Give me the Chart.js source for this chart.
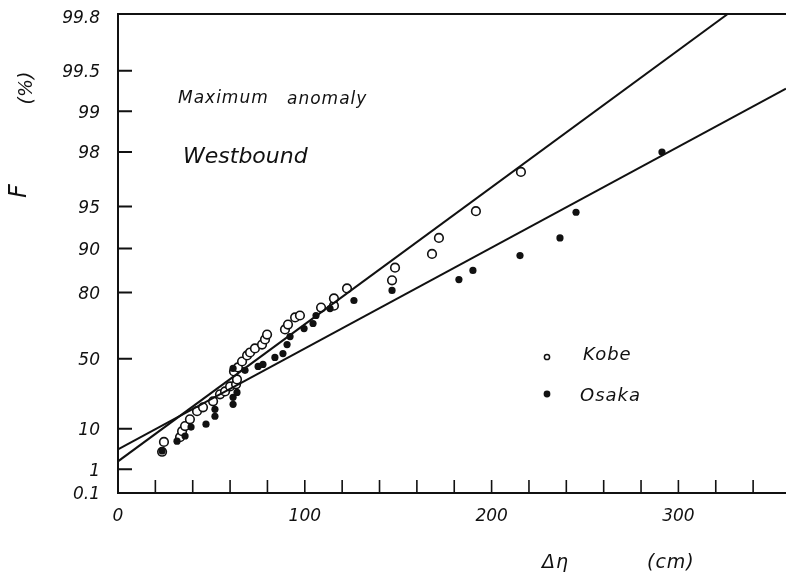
<!DOCTYPE html>
<html>
<head>
<meta charset="utf-8">
<script src="https://cdn.jsdelivr.net/npm/chart.js@4.4.1/dist/chart.umd.min.js"></script>
<style>
  html, body { margin: 0; padding: 0; background: #fff; }
  #wrap { width: 786px; height: 575px; }
</style>
</head>
<body>
<div id="wrap"><canvas id="gumbelChart" width="786" height="575"></canvas></div>
<script>
// maximum anomaly, westbound: delta eta (cm) vs cumulative frequency F (%)
const kobeEta = [24.6, 23.6, 33.2, 34.3, 35.9, 38.5, 42.3, 45.5, 50.9, 54.6, 57.3, 60.0, 63.2, 63.7,
    62.1, 64.2, 66.4, 69.1, 70.7, 73.3, 77.1, 78.7, 79.8, 89.4, 91.0, 94.8, 97.4, 108.7, 115.6, 115.6,
    122.6, 146.7, 148.3, 168.1, 171.8, 191.6, 215.7];
const kobeF = [5.6, 3.3, 7.0, 9.1, 11.1, 14.1, 18.2, 20.3, 23.7, 27.9, 29.7, 32.8, 34.1, 37.2,
    42.2, 44.7, 48.3, 51.9, 53.6, 55.9, 58.0, 60.7, 63.2, 65.7, 67.9, 71.0, 71.8, 74.9, 75.6, 78.1,
    81.2, 83.4, 86.4, 89.1, 91.6, 94.6, 97.2];

const osakaEta = [23.6, 31.6, 35.9, 39.1, 47.1, 51.9, 51.9, 61.6, 61.6, 63.7, 61.6, 68.0, 75.0, 77.6,
    84.0, 88.3, 90.5, 92.1, 99.6, 104.4, 106.0, 113.5, 126.3, 146.7, 182.5, 190.0, 215.2, 236.6,
    245.2, 291.2];
const osakaF = [3.45, 5.8, 7.4, 10.7, 11.9, 15.6, 19.2, 22.0, 26.1, 29.1, 44.1, 42.9, 45.3, 46.5,
    50.7, 53.0, 58.0, 62.2, 66.1, 68.4, 71.8, 74.5, 77.4, 80.6, 83.6, 85.8, 88.8, 91.6,
    94.5, 98.0];

// fitted lines (end points)
const kobeFitEta = [0, 326.4];
const kobeFitF = [1.8, 99.81];
const osakaFitEta = [0, 357.6];
const osakaFitF = [3.8, 99.32];

const yTickValues = [0.1, 1, 10, 50, 80, 90, 95, 98, 99, 99.5, 99.8];
const yTickLabels = ['0.1', '1', '10', '50', '80', '90', '95', '98', '99', '99.5', '99.8'];
const xTickValues = [0, 20, 40, 60, 80, 100, 120, 140, 160, 180, 200, 220, 240, 260, 280, 300, 320, 340];
const xTickLabels = ['0', '', '', '', '', '100', '', '', '', '', '200', '', '', '', '', '300', '', ''];

const INK = '#111';
const FONT = '"DejaVu Sans", "Liberation Sans", sans-serif';

// Gumbel probability paper: reduced variate -ln(-ln(F))
const gumbel = p => -Math.log(-Math.log(p / 100));
const gumbelInv = g => 100 * Math.exp(-Math.exp(-g));

class GumbelScale extends Chart.LinearScale {
    determineDataLimits() {
        this.min = this.options.min;
        this.max = this.options.max;
    }
    buildTicks() {
        return yTickValues.map(v => ({ value: v }));
    }
    configure() {
        super.configure();
        this._startValue = gumbel(this.min);
        this._valueRange = gumbel(this.max) - gumbel(this.min);
    }
    getPixelForValue(value) {
        if (value === null || value === undefined || isNaN(value)) return NaN;
        return this.getPixelForDecimal((gumbel(value) - this._startValue) / this._valueRange);
    }
    getValueForPixel(pixel) {
        return gumbelInv(this._startValue + this.getDecimalForPixel(pixel) * this._valueRange);
    }
}
GumbelScale.id = 'gumbel';
GumbelScale.defaults = {};
Chart.register(GumbelScale);

function toPoints(xs, ys) {
    return xs.map((x, i) => ({ x: x, y: ys[i] }));
}

const inkPlugin = {
    id: 'ink',
    afterDraw(chart) {
        const ctx = chart.ctx;
        const area = chart.chartArea;
        const xs = chart.scales.x;
        const ys = chart.scales.y;
        ctx.save();
        ctx.strokeStyle = INK;
        ctx.fillStyle = INK;

        // top frame line
        ctx.lineWidth = 2;
        ctx.beginPath();
        ctx.moveTo(area.left - 1, area.top);
        ctx.lineTo(area.right, area.top);
        ctx.stroke();

        // inward ticks
        ctx.beginPath();
        ys.ticks.forEach((t, i) => {
            const py = ys.getPixelForTick(i);
            if (py > area.top + 6 && py < area.bottom - 6) {
                ctx.moveTo(area.left, py);
                ctx.lineTo(area.left + 14, py);
            }
        });
        ctx.stroke();
        ctx.lineWidth = 1.6;
        ctx.beginPath();
        xs.ticks.forEach((t, i) => {
            const px = xs.getPixelForTick(i);
            if (px > area.left + 6) {
                ctx.moveTo(px, area.bottom);
                ctx.lineTo(px, area.bottom - 13);
            }
        });
        ctx.stroke();

        // texts
        ctx.textBaseline = 'middle';
        ctx.textAlign = 'left';
        ctx.letterSpacing = '1px';
        ctx.font = 'italic 17px ' + FONT;
        ctx.fillText('Maximum', 178, 99);
        ctx.fillText('anomaly', 287, 100);
        ctx.letterSpacing = '0px';
        ctx.font = 'italic 22px ' + FONT;
        ctx.fillText('Westbound', 183, 157);

        // legend
        ctx.letterSpacing = '1px';
        ctx.font = 'italic 18px ' + FONT;
        ctx.fillText('Kobe', 583, 355);
        ctx.fillText('Osaka', 580, 396);
        ctx.lineWidth = 1.5;
        ctx.beginPath();
        ctx.arc(547, 357, 2.6, 0, Math.PI * 2);
        ctx.stroke();
        ctx.beginPath();
        ctx.arc(547, 394, 3.4, 0, Math.PI * 2);
        ctx.fill();

        // axis titles
        ctx.font = 'italic 19px ' + FONT;
        ctx.fillText('\u0394\u03b7', 542, 563);
        ctx.fillText('(cm)', 647, 563);
        ctx.letterSpacing = '0px';

        ctx.save();
        ctx.translate(20, 191);
        ctx.rotate(-Math.PI / 2);
        ctx.textAlign = 'center';
        ctx.font = 'italic 24px ' + FONT;
        ctx.fillText('F', 0, 0);
        ctx.restore();

        ctx.save();
        ctx.translate(27, 88);
        ctx.rotate(-Math.PI / 2);
        ctx.textAlign = 'center';
        ctx.font = 'italic 19px ' + FONT;
        ctx.fillText('(%)', 0, 0);
        ctx.restore();

        ctx.restore();
    }
};

const chartData = {
    datasets: [
        {
            label: 'Kobe fit',
            type: 'line',
            data: toPoints(kobeFitEta, kobeFitF),
            borderColor: INK,
            borderWidth: 2,
            pointRadius: 0,
            fill: false
        },
        {
            label: 'Osaka fit',
            type: 'line',
            data: toPoints(osakaFitEta, osakaFitF),
            borderColor: INK,
            borderWidth: 2,
            pointRadius: 0,
            fill: false
        },
        {
            label: 'Osaka',
            data: toPoints(osakaEta, osakaF),
            pointStyle: 'circle',
            pointRadius: 3.6,
            backgroundColor: INK,
            borderColor: INK,
            borderWidth: 0
        },
        {
            label: 'Kobe',
            data: toPoints(kobeEta, kobeF),
            pointStyle: 'circle',
            pointRadius: 4.3,
            backgroundColor: '#fff',
            borderColor: INK,
            borderWidth: 1.6
        }
    ]
};

const chartConfig = {
    type: 'scatter',
    data: chartData,
    plugins: [inkPlugin],
    options: {
        responsive: false,
        animation: false,
        devicePixelRatio: 1,
        layout: {
            autoPadding: false,
            padding: { top: 14, right: 0, bottom: 0, left: 0 }
        },
        plugins: {
            legend: { display: false },
            tooltip: { enabled: false }
        },
        scales: {
            x: {
                type: 'linear',
                min: 0,
                max: 357.6,
                afterBuildTicks: scale => {
                    scale.ticks = xTickValues.map(v => ({ value: v }));
                },
                afterFit: scale => {
                    scale.height = 82;
                    scale.paddingLeft = 0;
                    scale.paddingRight = 0;
                },
                grid: { display: true, drawOnChartArea: false, drawTicks: false },
                border: { display: true, color: INK, width: 2 },
                ticks: {
                    autoSkip: false,
                    maxRotation: 0,
                    padding: 13,
                    color: INK,
                    font: { family: FONT, size: 17, style: 'italic' },
                    callback: (v, i) => xTickLabels[i]
                }
            },
            y: {
                type: 'gumbel',
                min: 0.1,
                max: 99.81,
                afterFit: scale => {
                    scale.width = 118;
                    scale.paddingTop = 0;
                    scale.paddingBottom = 0;
                },
                grid: { display: true, drawOnChartArea: false, drawTicks: false },
                border: { display: true, color: INK, width: 2 },
                ticks: {
                    autoSkip: false,
                    padding: 18,
                    labelOffset: 2,
                    color: INK,
                    font: { family: FONT, size: 17, style: 'italic' },
                    callback: (v, i) => yTickLabels[i]
                }
            }
        }
    }
};

const ctx = document.getElementById('gumbelChart').getContext('2d');
const gumbelChart = new Chart(ctx, chartConfig);
</script>
</body>
</html>
